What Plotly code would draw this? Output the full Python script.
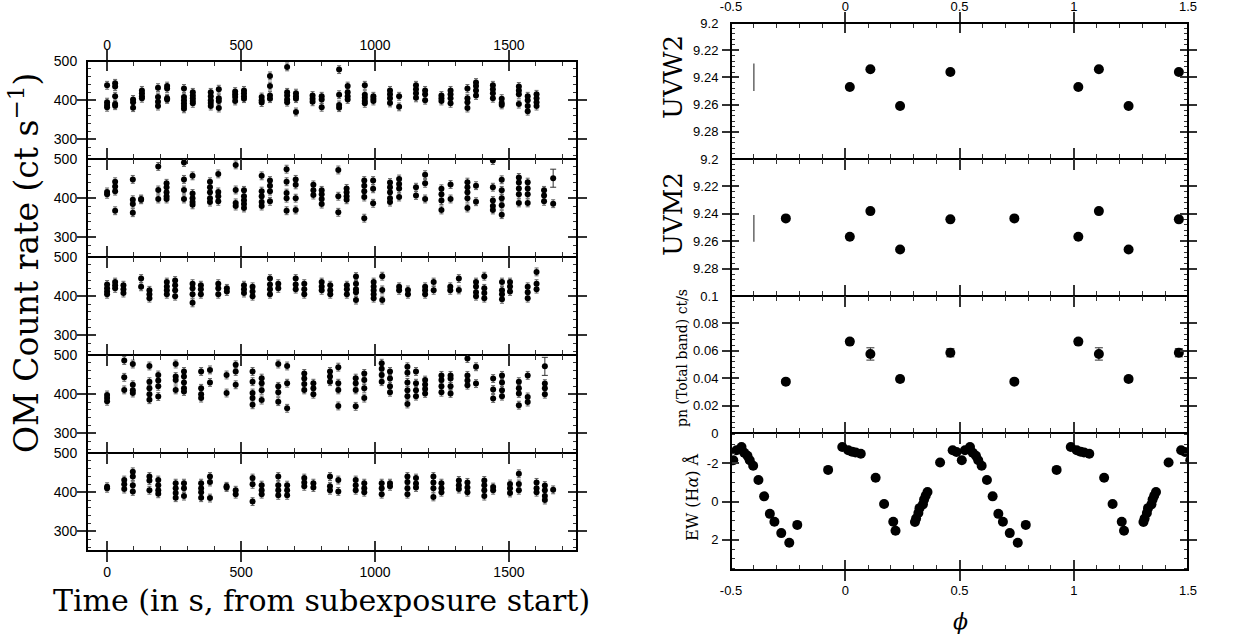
import plotly.graph_objects as go

# ---------------- DATA ----------------
# Left: OM count rate (ct/s) per subexposure time column (s), five exposures
P1 = [
    (0, [438, 395, 388, 382]), (30, [443, 435, 410, 390, 386]), (97, [402, 395, 381]),
    (130, [425, 418, 410, 405]), (190, [432, 408, 396, 385]), (224, [436, 430, 405, 402]),
    (287, [430, 408, 400, 392, 385, 378]), (320, [420, 412, 405, 398, 392]),
    (387, [420, 410, 400, 393, 385]), (417, [428, 405, 398, 380]), (478, [422, 415, 408, 398]),
    (511, [425, 418, 410, 404]), (577, [408, 400, 394]), (608, [462, 436, 412, 404]),
    (672, [485, 420, 412, 402, 395]), (705, [418, 410, 404, 370]), (767, [412, 404, 396]),
    (801, [410, 402, 382]), (866, [478, 414, 388, 381]), (898, [436, 420, 410, 402]),
    (962, [438, 414, 406, 398, 392]), (994, [410, 404, 398]), (1056, [425, 415, 405, 393]),
    (1090, [410, 383]), (1153, [438, 428, 418, 406]), (1187, [425, 415, 400]),
    (1248, [412, 405, 398]), (1282, [425, 415, 405, 392]), (1345, [430, 405, 395, 380]),
    (1377, [445, 436, 425, 412]), (1440, [438, 428, 418, 405]), (1473, [404, 393, 388]),
    (1537, [435, 425, 415, 390]), (1570, [410, 400, 385, 372]), (1603, [415, 405, 395, 385]),
]
P2 = [
    (0, [416, 410]), (30, [442, 430, 418, 368]), (96, [448, 396, 385, 363]), (127, [398, 396]),
    (191, [481, 421, 398]), (222, [438, 428, 415, 405, 398]), (287, [491, 448, 421, 398]),
    (319, [457, 412, 400, 390, 383]), (384, [442, 428, 415, 400, 390]), (415, [462, 416, 405, 392]),
    (480, [485, 421, 388, 380]), (511, [420, 405, 395, 385, 375]), (577, [457, 418, 405, 390, 380]),
    (608, [445, 432, 418, 392]), (670, [474, 442, 413, 400, 368]), (704, [448, 434, 400, 370]),
    (770, [434, 420, 408]), (801, [420, 410, 398, 385]), (863, [472, 405, 364]),
    (894, [425, 415, 405, 396]), (960, [445, 432, 418, 403, 349]), (993, [445, 424, 387]),
    (1056, [440, 428, 415, 400, 390]), (1090, [449, 436, 425, 403]), (1153, [428, 407]),
    (1187, [460, 438, 398]), (1248, [424, 410, 394, 370]), (1282, [435, 398]),
    (1345, [441, 428, 415, 400, 375]), (1377, [432, 391]), (1440, [496, 428, 394, 380, 370]),
    (1473, [447, 420, 400, 382, 358]), (1537, [453, 440, 425, 410, 388]),
    (1570, [441, 425, 410, 388]), (1631, [420, 407, 392]), (1665, [386]),
]
P3 = [
    (0, [430, 420, 412, 405]), (30, [436, 428, 420]), (61, [428, 418, 408]), (127, [445, 424]),
    (158, [415, 405, 395]), (223, [436, 425, 415, 405]), (254, [440, 428, 415, 400]),
    (319, [432, 420, 405, 383]), (350, [428, 418, 405]), (415, [432, 420, 405]), (447, [420, 412]),
    (511, [428, 418, 408]), (543, [424, 412, 400]), (608, [445, 430, 418, 405]), (639, [432, 420]),
    (704, [445, 430, 418]), (736, [432, 418, 405]), (801, [436, 425, 415]), (833, [428, 415, 405]),
    (895, [428, 418, 405]), (929, [450, 432, 418, 410, 390]), (995, [436, 425, 415, 405, 395]),
    (1027, [451, 416, 390]), (1090, [424, 415]), (1123, [416, 405]), (1187, [424, 415, 405]),
    (1219, [436, 415]), (1281, [424, 415]), (1313, [445, 416]), (1377, [436, 425, 410, 400]),
    (1408, [451, 420, 408, 395]), (1474, [436, 415, 405, 392]), (1504, [436, 425, 412]),
    (1570, [424, 410, 395]), (1603, [462, 432, 418]),
]
P4 = [
    (0, [398, 390, 382]), (64, [486, 443, 411]), (96, [477, 424, 410, 403]),
    (158, [472, 432, 415, 400, 386]), (191, [449, 435, 420, 394]), (256, [477, 445, 436, 411]),
    (287, [458, 445, 430, 415, 407]), (351, [458, 415, 400, 390]), (384, [462, 430]),
    (446, [449, 403]), (480, [475, 458, 424]), (543, [458, 432, 403, 390, 373]),
    (577, [441, 428, 410, 385]), (639, [477, 420, 405, 381]), (672, [472, 428, 364]),
    (736, [453, 440, 426, 411]), (770, [428, 415, 400]), (832, [458, 445, 432]),
    (863, [469, 428, 411, 370]), (928, [441, 428, 411, 369]), (960, [453, 436, 415, 390]),
    (1025, [479, 465, 449, 432]), (1056, [458, 440, 420, 405]),
    (1121, [470, 455, 430, 410, 395, 375]), (1153, [458, 428, 410, 395]),
    (1187, [436, 425, 413, 402]), (1248, [448, 436, 420, 405]), (1282, [448, 440, 420, 402]),
    (1345, [491, 448, 435, 423]), (1377, [470, 427]), (1441, [440, 412, 389]),
    (1474, [448, 430, 410, 395]), (1537, [432, 415, 402, 372]), (1570, [448, 393, 380]),
    (1634, [427, 415, 400]),
]
P5 = [
    (0, [414, 410]), (64, [431, 420, 408]), (96, [452, 440, 418, 402]), (158, [440, 430, 405]),
    (191, [431, 418, 405, 396]), (256, [423, 410, 398, 386]), (287, [423, 410, 390]),
    (351, [423, 410, 400, 386]), (384, [440, 426, 385]), (446, [415, 412]), (480, [405, 395]),
    (543, [436, 420, 376]), (577, [418, 405, 395]), (639, [440, 418, 405, 392]),
    (672, [418, 405, 392]), (736, [436, 425, 415]), (770, [423, 412]), (832, [440, 415, 405]),
    (863, [431, 402]), (928, [431, 418, 405]), (960, [423, 410, 400]), (1025, [423, 410, 395]),
    (1056, [423, 415]), (1121, [440, 426, 410, 395]), (1153, [436, 422, 412]),
    (1218, [440, 425, 410, 388]), (1248, [423, 410, 400]), (1313, [430, 418, 408]),
    (1345, [425, 412, 400]), (1408, [430, 418, 405, 390]), (1441, [413, 405]),
    (1504, [421, 410, 398]), (1537, [447, 421, 405]), (1603, [425, 410, 400]),
    (1634, [417, 405, 390, 380]), (1665, [406]),
]
POINT_ERR = 10
# single points with large error bars (time, rate, error) per panel
BIG_ERR = {2: (1665, 451, 23), 4: (1634, 471, 23)}

# Right: phase-folded data (base phases in [0,1))
PHASE_LABELS = ["-0.5", "0", "0.5", "1", "1.5"]
PHASE_VALS = [-0.5, 0, 0.5, 1, 1.5]
UVW2_PH = [0.02, 0.11, 0.24, 0.46]
UVW2_MAG = [9.247, 9.234, 9.261, 9.236]
UVW2_TYPERR = (-0.4, 9.2297, 9.2499)
UVM2_PH = [0.74, 0.02, 0.11, 0.24, 0.46]
UVM2_MAG = [9.2433, 9.2567, 9.238, 9.266, 9.244]
UVM2_TYPERR = (-0.4, 9.2409, 9.2604)
PN_PH = [0.74, 0.02, 0.11, 0.24, 0.46]
PN_RATE = [0.0375, 0.0667, 0.0577, 0.0394, 0.0586]
PN_ERR = [0.0015, 0.002, 0.0045, 0.002, 0.003]
EW_PH = [0.013, 0.03, 0.045, 0.068, 0.133, 0.17, 0.21, 0.22, 0.305, 0.31, 0.32, 0.325,
         0.34, 0.345, 0.352, 0.36, 0.415, 0.47, 0.487, 0.51, 0.524, 0.546, 0.558, 0.572,
         0.582, 0.597, 0.62, 0.645, 0.67, 0.69, 0.72, 0.755, 0.79, 0.925, 0.987]
EW_VAL = [-2.69, -2.62, -2.58, -2.51, -1.25, 0.13, 1.06, 1.54, 1.08, 0.9, 0.6, 0.35,
          0.15, -0.1, -0.3, -0.5, -2.05, -2.69, -2.6, -2.17, -2.69, -2.86, -2.56, -2.4,
          -2.17, -1.88, -1.13, -0.27, 0.65, 1.06, 1.66, 2.17, 1.23, -1.66, -2.86]
EW_TICKS = [-2, 0, 2]
EW_TICKTEXT = ["-2", "0", "2"]

# ---------------- HELPERS ----------------
W, H = 1241, 638
SERIF = "DejaVu Serif"
SANS = "Liberation Sans"
TICKC = "#333"


def sx(px):
    return px / W


def sy(px):
    return 1 - px / H


def dom_x(a, b):
    return [sx(a), sx(b)]


def dom_y(top, bottom):
    return [sy(bottom), sy(top)]


def flatten(cols):
    xs, ys = [], []
    for t, vals in cols:
        for v in vals:
            xs.append(t)
            ys.append(v)
    return xs, ys


def fold(ph, vals, errs=None):
    xs, ys, es = [], [], []
    for i, p in enumerate(ph):
        for k in (-1, 0, 1):
            q = p + k
            if -0.55 <= q <= 1.55:
                xs.append(q)
                ys.append(vals[i])
                es.append(errs[i] if errs else 0)
    return xs, ys, es


def major_axis(ticklen, fontsize, standoff):
    return dict(ticks="inside", ticklen=ticklen, tickwidth=1.5, tickcolor=TICKC,
                showline=True, linewidth=1, linecolor="black", mirror="allticks",
                showgrid=False, zeroline=False, automargin=False, ticklabelstandoff=standoff,
                tickfont=dict(family=SANS, size=fontsize, color="black"))


def minor_axis(domain, rng, overlay, anchor, tick0, dtick, ln=5):
    return dict(domain=domain, range=rng, overlaying=overlay, anchor=anchor,
                tickmode="linear", tick0=tick0, dtick=dtick, ticks="inside", ticklen=ln,
                tickwidth=1, tickcolor=TICKC, showticklabels=False, showline=False,
                mirror="allticks", showgrid=False, zeroline=False, automargin=False)


fig = go.Figure()
shapes = []


def add_minor(i, xdom, xrng, x0, xdt, ydom, yrng, y0, ydt, xlen=5, ylen=4):
    xm, ym = 10 + i, 20 + i
    fig.layout[f"xaxis{xm}"] = minor_axis(xdom, xrng, f"x{i}", f"y{i}", x0, xdt, xlen)
    fig.layout[f"yaxis{ym}"] = minor_axis(ydom, yrng, f"y{i}", f"x{i}", y0, ydt, ylen)
    fig.add_trace(go.Scatter(x=[], y=[], xaxis=f"x{xm}", yaxis=f"y{i}", showlegend=False))
    fig.add_trace(go.Scatter(x=[], y=[], xaxis=f"x{i}", yaxis=f"y{ym}", showlegend=False))


# ---------------- LEFT PANELS ----------------
LX = dom_x(87, 577)
LXR = [-75, 1754]
LYR = [250, 500]
LTOPS = [61, 159, 257, 355, 453, 551]
panels = [P1, P2, P3, P4, P5]
for i, P in enumerate(panels, start=1):
    xs, ys = flatten(P)
    fig.add_trace(go.Scatter(
        x=xs, y=ys, mode="markers", xaxis=f"x{i}", yaxis=f"y{i}",
        marker=dict(size=6, color="black"),
        error_y=dict(type="constant", value=POINT_ERR, color="#666", thickness=1, width=2),
        showlegend=False))
    if i in BIG_ERR:
        t, v, e = BIG_ERR[i]
        fig.add_trace(go.Scatter(
            x=[t], y=[v], mode="markers", xaxis=f"x{i}", yaxis=f"y{i}",
            marker=dict(size=6, color="black"),
            error_y=dict(type="constant", value=e, color="#333", thickness=1, width=3),
            showlegend=False))
    top = i == 1
    ydom = dom_y(LTOPS[i - 1], LTOPS[i])
    xa = major_axis(10, 14, 4 if top else 8)
    xa.update(domain=LX, range=LXR, anchor=f"y{i}", tickmode="linear", tick0=0, dtick=500,
              showticklabels=(i in (1, 5)), side="top" if top else "bottom")
    ya = major_axis(9, 14, 6)
    ya.update(domain=ydom, range=LYR, anchor=f"x{i}", tickmode="linear", tick0=0, dtick=100)
    fig.layout[f"xaxis{i}"] = xa
    fig.layout[f"yaxis{i}"] = ya
    add_minor(i, LX, LXR, 0, 100, ydom, LYR, 0, 20)
shapes.append(dict(type="rect", xref="paper", yref="paper", x0=LX[0], x1=LX[1],
                   y0=sy(551), y1=sy(61), line=dict(color="black", width=2)))

# ---------------- RIGHT PANELS ----------------
RX = dom_x(731, 1188)
RXR = [-0.5, 1.5]
RTOPS = [23, 159, 296, 433, 570]

x, y, _ = fold(UVW2_PH, UVW2_MAG)
fig.add_trace(go.Scatter(x=x, y=y, mode="markers", xaxis="x6", yaxis="y6",
                         marker=dict(size=10, color="black"), showlegend=False))
fig.add_trace(go.Scatter(x=[UVW2_TYPERR[0]] * 2, y=list(UVW2_TYPERR[1:]), mode="lines",
                         xaxis="x6", yaxis="y6", line=dict(color="#666", width=1.5), showlegend=False))
x, y, _ = fold(UVM2_PH, UVM2_MAG)
fig.add_trace(go.Scatter(x=x, y=y, mode="markers", xaxis="x7", yaxis="y7",
                         marker=dict(size=10, color="black"), showlegend=False))
fig.add_trace(go.Scatter(x=[UVM2_TYPERR[0]] * 2, y=list(UVM2_TYPERR[1:]), mode="lines",
                         xaxis="x7", yaxis="y7", line=dict(color="#666", width=1.5), showlegend=False))
x, y, e = fold(PN_PH, PN_RATE, PN_ERR)
fig.add_trace(go.Scatter(x=x, y=y, mode="markers", xaxis="x8", yaxis="y8",
                         marker=dict(size=10, color="black"),
                         error_y=dict(type="data", array=e, color="#333", thickness=1, width=4),
                         showlegend=False))
x, y, _ = fold(EW_PH, EW_VAL)
fig.add_trace(go.Scatter(x=x, y=y, mode="markers", xaxis="x9", yaxis="y9",
                         marker=dict(size=10, color="black"), showlegend=False))

yspecs = {
    6: (dict(range=[9.2999, 9.2], tickmode="linear", tick0=9.2, dtick=0.02), 9.2, 0.004),
    7: (dict(range=[9.2999, 9.2], tickmode="linear", tick0=9.2, dtick=0.02), 9.2, 0.004),
    8: (dict(range=[0, 0.1], tickmode="linear", tick0=0, dtick=0.02), 0, 0.004),
    9: (dict(range=[3.6, -3.6], tickmode="array", tickvals=EW_TICKS, ticktext=EW_TICKTEXT), 0, 0.5),
}
for j, i in enumerate(range(6, 10)):
    top = i == 6
    ydom = dom_y(RTOPS[j], RTOPS[j + 1])
    xa = major_axis(10, 13, 6 if top else 8)
    xa.update(domain=RX, range=RXR, anchor=f"y{i}", tickmode="array",
              tickvals=PHASE_VALS, ticktext=PHASE_LABELS,
              showticklabels=(i in (6, 9)), side="top" if top else "bottom")
    spec, y0, ydt = yspecs[i]
    ya = major_axis(8, 13, 9)
    ya.update(domain=ydom, anchor=f"x{i}")
    ya.update(spec)
    fig.layout[f"xaxis{i}"] = xa
    fig.layout[f"yaxis{i}"] = ya
    add_minor(i, RX, RXR, 0, 0.1, ydom, spec["range"], y0, ydt)
shapes.append(dict(type="rect", xref="paper", yref="paper", x0=RX[0], x1=RX[1],
                   y0=sy(570), y1=sy(23), line=dict(color="black", width=2)))

# ---------------- TITLES ----------------
ann = [
    dict(text="OM Count rate (ct s<sup>−1</sup>)", x=sx(24), y=sy(263), textangle=-90,
         font=dict(family=SERIF, size=33)),
    dict(text="Time (in s, from subexposure start)", x=sx(321), y=sy(600),
         font=dict(family=SERIF, size=30)),
    dict(text="<i>ϕ</i>", x=sx(960), y=sy(621), font=dict(family=SERIF, size=22)),
    dict(text="UVW2", x=sx(673), y=sy(77), textangle=-90, font=dict(family=SERIF, size=26)),
    dict(text="UVM2", x=sx(673), y=sy(214), textangle=-90, font=dict(family=SERIF, size=26)),
    dict(text="pn (Total band) ct/s", x=sx(682), y=sy(358), textangle=-90,
         font=dict(family=SERIF, size=14)),
    dict(text="EW (H<i>α</i>) Å", x=sx(692), y=sy(497), textangle=-90,
         font=dict(family=SERIF, size=16)),
]
for a in ann:
    a.update(xref="paper", yref="paper", showarrow=False, xanchor="center", yanchor="middle")
    a["font"]["color"] = "black"
fig.update_layout(template="none", annotations=ann, shapes=shapes, width=W, height=H,
                  margin=dict(l=0, r=0, t=0, b=0),
                  paper_bgcolor="white", plot_bgcolor="rgba(0,0,0,0)", showlegend=False)

# remove the default 8px page margin so the figure sits at the window's top-left corner
fig.write_html("out.html", config={"displayModeBar": False},
               post_script="document.body.style.margin='0px';")
